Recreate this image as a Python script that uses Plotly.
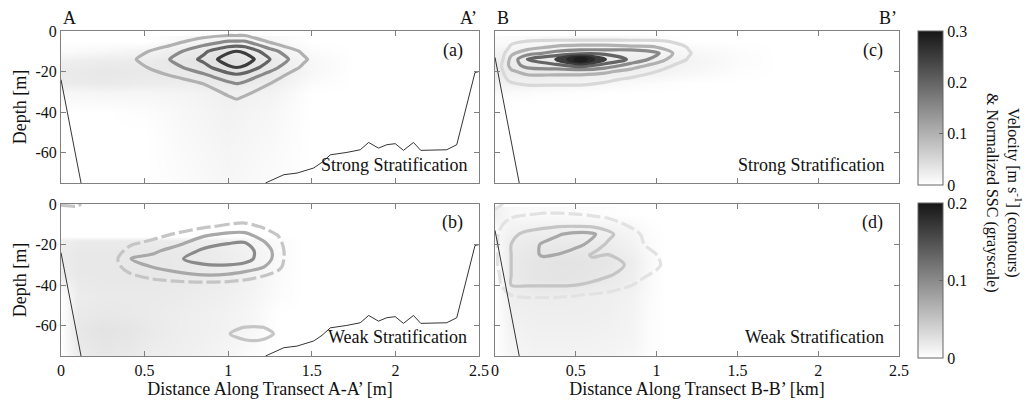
import plotly.graph_objects as go

W, H = 1029, 405
FONT = "Liberation Serif, Times New Roman, serif"

# ---------------- DATA ----------------
# Panel (a): A-A', strong stratification -- velocity [m/s] (contours)
a_vel_x = [0.2, 0.45, 0.65, 0.85, 1.0, 1.05, 1.1, 1.25, 1.45, 1.6]
a_vel_depth = [0, -5, -10, -14, -18, -22, -26, -32, -40]
a_vel = [
    [0.00, 0.02, 0.03, 0.06, 0.06, 0.06, 0.06, 0.04, 0.02, 0.00],
    [0.02, 0.05, 0.08, 0.12, 0.15, 0.15, 0.15, 0.09, 0.05, 0.02],
    [0.05, 0.085, 0.125, 0.19, 0.24, 0.25, 0.24, 0.17, 0.09, 0.04],
    [0.07, 0.10, 0.15, 0.21, 0.28, 0.30, 0.28, 0.20, 0.11, 0.05],
    [0.05, 0.085, 0.13, 0.18, 0.24, 0.25, 0.24, 0.17, 0.09, 0.03],
    [0.02, 0.06, 0.10, 0.14, 0.18, 0.19, 0.18, 0.13, 0.06, 0.02],
    [0.00, 0.03, 0.07, 0.10, 0.14, 0.15, 0.14, 0.10, 0.04, 0.00],
    [0.00, 0.01, 0.03, 0.06, 0.10, 0.11, 0.10, 0.06, 0.02, 0.00],
    [0.00, 0.00, 0.01, 0.03, 0.05, 0.06, 0.05, 0.03, 0.00, 0.00],
]
a_levels = [0.1, 0.15, 0.2, 0.25]
# Panel (a): normalized SSC (grayscale)
a_ssc_x = [0, 0.25, 0.5, 0.75, 1.0, 1.25, 1.5, 1.75]
a_ssc_depth = [-5, -10, -15, -20, -25, -30, -40, -50, -60, -75]
a_ssc = [
    [0.000, 0.000, 0.000, 0.010, 0.015, 0.010, 0.000, 0],
    [0.005, 0.010, 0.015, 0.025, 0.035, 0.020, 0.005, 0],
    [0.020, 0.025, 0.025, 0.033, 0.042, 0.028, 0.010, 0],
    [0.026, 0.030, 0.028, 0.028, 0.037, 0.028, 0.010, 0],
    [0.025, 0.028, 0.024, 0.023, 0.028, 0.023, 0.005, 0],
    [0.010, 0.012, 0.012, 0.014, 0.020, 0.016, 0.000, 0],
    [0.000, 0.000, 0.003, 0.010, 0.017, 0.011, 0.000, 0],
    [0.000, 0.000, 0.000, 0.009, 0.015, 0.009, 0.000, 0],
    [0.000, 0.000, 0.000, 0.007, 0.013, 0.007, 0.000, 0],
    [0.000, 0.000, 0.000, 0.005, 0.011, 0.005, 0.000, 0],
]

# Panel (b): A-A', weak stratification -- velocity
b_vel_x = [0.0, 0.1, 0.2, 0.34, 0.42, 0.55, 0.71, 0.85, 1.0, 1.1, 1.2, 1.3, 1.4]
b_vel_depth = [0, -3, -7, -11, -15, -19, -23, -27, -31, -35, -39, -44]
b_vel = [
    [0.055, 0.060, 0.010, 0.000, 0.000, 0.000, 0.000, 0.000, 0.000, 0.000, 0.000, 0.000, 0.000],
    [0.030, 0.030, 0.000, 0.000, 0.000, 0.000, 0.005, 0.010, 0.020, 0.020, 0.015, 0.010, 0.000],
    [0.000, 0.000, 0.000, 0.000, 0.005, 0.010, 0.020, 0.025, 0.035, 0.038, 0.030, 0.020, 0.010],
    [0.000, 0.000, 0.000, 0.010, 0.015, 0.025, 0.035, 0.045, 0.055, 0.058, 0.048, 0.035, 0.015],
    [0.000, 0.000, 0.010, 0.020, 0.030, 0.040, 0.055, 0.070, 0.080, 0.080, 0.065, 0.048, 0.020],
    [0.000, 0.000, 0.015, 0.030, 0.045, 0.056, 0.070, 0.088, 0.098, 0.100, 0.080, 0.058, 0.020],
    [0.000, 0.000, 0.020, 0.042, 0.060, 0.070, 0.086, 0.104, 0.112, 0.112, 0.090, 0.065, 0.020],
    [0.000, 0.000, 0.030, 0.050, 0.075, 0.082, 0.098, 0.110, 0.115, 0.110, 0.090, 0.065, 0.020],
    [0.000, 0.000, 0.025, 0.045, 0.065, 0.076, 0.086, 0.095, 0.095, 0.090, 0.078, 0.058, 0.020],
    [0.000, 0.000, 0.015, 0.035, 0.048, 0.060, 0.070, 0.075, 0.073, 0.065, 0.055, 0.040, 0.010],
    [0.000, 0.000, 0.010, 0.020, 0.030, 0.040, 0.045, 0.047, 0.045, 0.040, 0.030, 0.020, 0.000],
    [0.000, 0.000, 0.000, 0.000, 0.010, 0.015, 0.020, 0.020, 0.020, 0.015, 0.010, 0.000, 0.000],
]
b_levels = [0.05, 0.075, 0.1]
# Panel (b): small near-bed velocity patch
b_vel2_x = [0.9, 1.0, 1.1, 1.2, 1.3, 1.35]
b_vel2_depth = [-58, -61, -64, -67, -70]
b_vel2 = [
    [0.0, 0.020, 0.030, 0.030, 0.020, 0.0],
    [0.0, 0.040, 0.052, 0.052, 0.040, 0.0],
    [0.0, 0.048, 0.065, 0.062, 0.045, 0.0],
    [0.0, 0.030, 0.050, 0.050, 0.030, 0.0],
    [0.0, 0.010, 0.020, 0.020, 0.010, 0.0],
]
b2_levels = [0.05]
# Panel (b): normalized SSC
b_ssc_x = [0.0, 0.1, 0.25, 0.4, 0.55, 0.7, 0.85, 1.0, 1.15, 1.3, 1.45]
b_ssc_depth = [-16, -18, -25, -35, -45, -55, -62, -70, -75]
b_ssc = [
    [0.000, 0.000, 0.000, 0.000, 0.000, 0.000, 0.000, 0.000, 0.000, 0.000, 0],
    [0.013, 0.017, 0.017, 0.017, 0.017, 0.016, 0.015, 0.013, 0.009, 0.004, 0],
    [0.016, 0.020, 0.020, 0.020, 0.020, 0.019, 0.018, 0.015, 0.011, 0.005, 0],
    [0.014, 0.019, 0.020, 0.020, 0.020, 0.019, 0.017, 0.015, 0.011, 0.004, 0],
    [0.000, 0.016, 0.018, 0.018, 0.018, 0.017, 0.015, 0.013, 0.009, 0.003, 0],
    [0.000, 0.018, 0.020, 0.019, 0.017, 0.015, 0.013, 0.011, 0.007, 0.000, 0],
    [0.000, 0.020, 0.024, 0.022, 0.018, 0.015, 0.013, 0.011, 0.007, 0.000, 0],
    [0.000, 0.018, 0.022, 0.020, 0.016, 0.014, 0.012, 0.009, 0.004, 0.000, 0],
    [0.000, 0.016, 0.020, 0.018, 0.015, 0.013, 0.011, 0.008, 0.003, 0.000, 0],
]

# Panel (c): B-B', strong stratification -- velocity
c_vel_x = [0.0, 0.05, 0.1, 0.2, 0.38, 0.53, 0.68, 0.84, 1.0, 1.1, 1.2, 1.3]
c_vel_depth = [0, -4, -8, -11, -14, -17, -20, -24, -28]
c_vel = [
    [0.00, 0.00, 0.000, 0.00, 0.00, 0.00, 0.00, 0.00, 0.00, 0.00, 0.000, 0.00],
    [0.00, 0.00, 0.030, 0.04, 0.04, 0.04, 0.04, 0.04, 0.04, 0.03, 0.020, 0.01],
    [0.01, 0.02, 0.060, 0.08, 0.11, 0.12, 0.12, 0.11, 0.10, 0.08, 0.045, 0.02],
    [0.02, 0.04, 0.090, 0.13, 0.17, 0.19, 0.19, 0.20, 0.16, 0.10, 0.055, 0.02],
    [0.03, 0.05, 0.115, 0.20, 0.25, 0.30, 0.25, 0.19, 0.13, 0.08, 0.045, 0.02],
    [0.03, 0.055, 0.120, 0.17, 0.19, 0.22, 0.18, 0.13, 0.08, 0.05, 0.030, 0.01],
    [0.02, 0.05, 0.090, 0.12, 0.12, 0.12, 0.11, 0.08, 0.05, 0.03, 0.010, 0.00],
    [0.01, 0.04, 0.060, 0.07, 0.07, 0.07, 0.06, 0.04, 0.02, 0.01, 0.000, 0.00],
    [0.00, 0.02, 0.030, 0.04, 0.04, 0.04, 0.03, 0.02, 0.00, 0.00, 0.000, 0.00],
]
c_levels = [0.05, 0.1, 0.15, 0.2]
c_core_levels = [0.25, 0.275, 0.29]
# Panel (c): normalized SSC
c_ssc_x = [0, 0.25, 0.5, 0.75, 1.0, 1.25, 1.5, 1.75]
c_ssc_depth = [-5, -10, -15, -20, -25, -30, -35]
c_ssc = [
    [0.005, 0.008, 0.010, 0.010, 0.005, 0.000, 0.000, 0],
    [0.014, 0.018, 0.022, 0.018, 0.014, 0.009, 0.004, 0],
    [0.023, 0.027, 0.031, 0.027, 0.020, 0.013, 0.005, 0],
    [0.025, 0.027, 0.027, 0.022, 0.016, 0.009, 0.003, 0],
    [0.018, 0.018, 0.013, 0.009, 0.004, 0.000, 0.000, 0],
    [0.007, 0.004, 0.002, 0.000, 0.000, 0.000, 0.000, 0],
    [0.000, 0.000, 0.000, 0.000, 0.000, 0.000, 0.000, 0],
]

# Panel (d): B-B', weak stratification -- velocity
d_vel_x = [0.0, 0.1, 0.2, 0.3, 0.4, 0.5, 0.6, 0.7, 0.8, 0.9, 1.0, 1.1]
d_vel_depth = [0, -5, -10, -15, -20, -25, -30, -35, -40, -45, -50]
d_vel = [
    [0.030, 0.020, 0.015, 0.015, 0.015, 0.010, 0.005, 0.000, 0.000, 0.000, 0.000, 0],
    [0.020, 0.022, 0.024, 0.026, 0.026, 0.025, 0.022, 0.018, 0.012, 0.006, 0.000, 0],
    [0.020, 0.030, 0.038, 0.042, 0.043, 0.042, 0.040, 0.035, 0.025, 0.015, 0.005, 0],
    [0.020, 0.045, 0.056, 0.062, 0.074, 0.082, 0.080, 0.058, 0.035, 0.025, 0.010, 0],
    [0.020, 0.050, 0.062, 0.079, 0.086, 0.082, 0.068, 0.045, 0.035, 0.028, 0.015, 0],
    [0.020, 0.050, 0.066, 0.078, 0.074, 0.062, 0.048, 0.050, 0.045, 0.030, 0.025, 0],
    [0.020, 0.050, 0.060, 0.062, 0.060, 0.058, 0.056, 0.055, 0.050, 0.035, 0.030, 0.01],
    [0.015, 0.050, 0.055, 0.056, 0.056, 0.055, 0.054, 0.052, 0.045, 0.030, 0.020, 0],
    [0.010, 0.050, 0.052, 0.052, 0.052, 0.050, 0.048, 0.040, 0.030, 0.020, 0.008, 0],
    [0.000, 0.025, 0.028, 0.028, 0.028, 0.026, 0.022, 0.018, 0.012, 0.006, 0.000, 0],
    [0.000, 0.015, 0.015, 0.014, 0.012, 0.010, 0.008, 0.005, 0.000, 0.000, 0.000, 0],
]
d_levels = [0.05, 0.075]
d_outer_levels = [0.025]
# Panel (d): normalized SSC
d_ssc_x = [0.0, 0.1, 0.25, 0.4, 0.55, 0.7, 0.85, 0.95, 1.05]
d_ssc_depth = [-5, -12, -20, -28, -36, -45, -55, -65, -75]
d_ssc = [
    [0.012, 0.006, 0.004, 0.004, 0.003, 0.002, 0.000, 0.000, 0],
    [0.004, 0.011, 0.013, 0.013, 0.012, 0.011, 0.007, 0.002, 0],
    [0.004, 0.016, 0.019, 0.019, 0.018, 0.016, 0.011, 0.004, 0],
    [0.000, 0.018, 0.022, 0.024, 0.023, 0.021, 0.015, 0.006, 0],
    [0.000, 0.018, 0.022, 0.023, 0.022, 0.019, 0.014, 0.005, 0],
    [0.000, 0.014, 0.016, 0.016, 0.015, 0.014, 0.011, 0.004, 0],
    [0.000, 0.012, 0.014, 0.014, 0.014, 0.013, 0.010, 0.003, 0],
    [0.000, 0.010, 0.012, 0.012, 0.012, 0.011, 0.009, 0.003, 0],
    [0.000, 0.008, 0.010, 0.010, 0.010, 0.009, 0.007, 0.002, 0],
]

# Bathymetry
bathA_x = [0.0, 0.12, None, 1.223, 1.333, 1.412, 1.511, 1.561, 1.611, 1.710, 1.790,
           1.840, 1.899, 1.949, 1.999, 2.048, 2.108, 2.152, 2.307, 2.367, 2.436, 2.476, 2.5]
bathA_depth = [-24, -75, None, -75, -70.9, -70.1, -67.6, -64.8, -61.1, -59.9, -58.6,
               -55.0, -57.8, -56.1, -55.6, -58.9, -55.0, -58.9, -58.6, -56.1, -34.0, -20.5, -20.0]
bathB_x = [0.0, 0.15]
bathB_depth = [-13, -75]

# Axis ticks
x_ticks = [0, 0.5, 1, 1.5, 2, 2.5]
x_ticktext = ["0", "0.5", "1", "1.5", "2", "2.5"]
y_ticks = [0, -20, -40, -60]
y_ticktext = ["0", "-20", "-40", "-60"]
cbar_top_ticks = [0, 0.1, 0.2, 0.3]
cbar_top_text = ["0", "0.1", "0.2", "0.3"]
cbar_bot_ticks = [0, 0.1, 0.2]
cbar_bot_text = ["0", "0.1", "0.2"]
TOP_MAX = 0.3
BOT_MAX = 0.2

# ---------------- FIGURE ----------------
fig = go.Figure()
DARK = 22
GRAY = [[0, "#ffffff"], [1, "rgb(%d,%d,%d)" % (DARK, DARK, DARK)]]

XL = [61 / W, 479 / W]
XR = [495 / W, 899 / W]
YT = [1 - 183 / H, 1 - 31 / H]
YB = [1 - 356 / H, 1 - 204 / H]
tickfont = dict(family=FONT, size=16, color="#111")


def gray(v, vmax):
    c = int(round(255 - (255 - DARK) * min(v / vmax, 1.0)))
    return "rgb(%d,%d,%d)" % (c, c, c)


def cbar(ticks, text, ytop, length):
    return dict(x=918 / W, xanchor="left", xpad=0, y=ytop, yanchor="top", ypad=0,
                len=length, lenmode="fraction", thickness=25, thicknessmode="pixels",
                outlinewidth=1, outlinecolor="#666", tickvals=ticks, ticktext=text,
                ticks="inside", ticklen=4, tickcolor="#666", tickfont=tickfont)


def add_heat(x, y, z, ax, vmax, bar=None):
    fig.add_trace(go.Heatmap(x=x, y=y, z=z, zsmooth="best", colorscale=GRAY,
                             zmin=0, zmax=vmax, showscale=bar is not None,
                             colorbar=bar if bar is not None else {},
                             xaxis="x" + ax, yaxis="y" + ax, hoverinfo="skip"))


def add_cont(x, y, z, ax, vmax, levels, width=3.2, smooth=0.9, dash="solid"):
    for lv in levels:
        fig.add_trace(go.Contour(x=x, y=y, z=z, autocontour=False, showscale=False,
                                 contours=dict(coloring="none", start=lv, end=lv, size=1),
                                 line=dict(width=width, smoothing=smooth, color=gray(lv, vmax),
                                           dash=dash),
                                 xaxis="x" + ax, yaxis="y" + ax, hoverinfo="skip"))


def add_bath(x, y, ax):
    fig.add_trace(go.Scatter(x=x, y=y, mode="lines", line=dict(color="black", width=0.8),
                             xaxis="x" + ax, yaxis="y" + ax, hoverinfo="skip",
                             showlegend=False, connectgaps=False))


DASH = "14px,4px"
# axis ids: "" -> (a), "2" -> (b), "3" -> (c), "4" -> (d)
add_heat(a_ssc_x, a_ssc_depth, a_ssc, "", TOP_MAX,
         bar=cbar(cbar_top_ticks, cbar_top_text, 1 - 31 / H, 154 / H))
add_cont(a_vel_x, a_vel_depth, a_vel, "", TOP_MAX, a_levels, smooth=0.5)
add_bath(bathA_x, bathA_depth, "")

add_heat(b_ssc_x, b_ssc_depth, b_ssc, "2", BOT_MAX,
         bar=cbar(cbar_bot_ticks, cbar_bot_text, 1 - 203 / H, 155 / H))
add_cont(b_vel_x, b_vel_depth, b_vel, "2", BOT_MAX, b_levels[:1], dash=DASH)
add_cont(b_vel_x, b_vel_depth, b_vel, "2", BOT_MAX, b_levels[1:])
add_cont(b_vel2_x, b_vel2_depth, b_vel2, "2", BOT_MAX, b2_levels)
add_bath(bathA_x, bathA_depth, "2")

add_heat(c_ssc_x, c_ssc_depth, c_ssc, "3", TOP_MAX)
add_cont(c_vel_x, c_vel_depth, c_vel, "3", TOP_MAX, c_levels)
add_cont(c_vel_x, c_vel_depth, c_vel, "3", TOP_MAX, c_core_levels, width=4.5)
add_bath(bathB_x, bathB_depth, "3")

add_heat(d_ssc_x, d_ssc_depth, d_ssc, "4", BOT_MAX)
add_cont(d_vel_x, d_vel_depth, d_vel, "4", BOT_MAX, d_outer_levels, dash=DASH)
add_cont(d_vel_x, d_vel_depth, d_vel, "4", BOT_MAX, d_levels)
add_bath(bathB_x, bathB_depth, "4")

AX = dict(range=[0, 2.5], tickvals=x_ticks, ticktext=x_ticktext, ticks="inside", ticklen=5,
          tickcolor="#808080", showline=True, linecolor="#808080", linewidth=1, mirror="ticks",
          showgrid=False, zeroline=False, tickfont=tickfont)
AY = dict(range=[-75, 0], tickvals=y_ticks, ticktext=y_ticktext, ticks="inside", ticklen=5,
          tickcolor="#808080", showline=True, linecolor="#808080", linewidth=1, mirror="ticks",
          showgrid=False, zeroline=False, tickfont=tickfont)

title_font = dict(family=FONT, size=18, color="#111")

fig.update_layout(
    width=W, height=H, margin=dict(l=0, r=0, t=0, b=0, autoexpand=False),
    paper_bgcolor="white", plot_bgcolor="white", showlegend=False,
    xaxis=dict(AX, domain=XL, anchor="y", showticklabels=False),
    yaxis=dict(AY, domain=YT, anchor="x",
               title=dict(text="Depth [m]", font=title_font, standoff=4)),
    xaxis2=dict(AX, domain=XL, anchor="y2",
                title=dict(text="Distance Along Transect A-A\u2019 [m]", font=title_font, standoff=4)),
    yaxis2=dict(AY, domain=YB, anchor="x2",
                title=dict(text="Depth [m]", font=title_font, standoff=4)),
    xaxis3=dict(AX, domain=XR, anchor="y3", showticklabels=False),
    yaxis3=dict(AY, domain=YT, anchor="x3", showticklabels=False),
    xaxis4=dict(AX, domain=XR, anchor="y4",
                title=dict(text="Distance Along Transect B-B\u2019 [km]", font=title_font, standoff=4)),
    yaxis4=dict(AY, domain=YB, anchor="x4", showticklabels=False),
)

txt = dict(family=FONT, size=18, color="#111")
ann = []
# transect end labels
ann.append(dict(text="A", x=61 / W, y=1 - 18 / H, xanchor="left"))
ann.append(dict(text="A\u2019", x=479 / W, y=1 - 18 / H, xanchor="right"))
ann.append(dict(text="B", x=495 / W, y=1 - 18 / H, xanchor="left"))
ann.append(dict(text="B\u2019", x=899 / W, y=1 - 18 / H, xanchor="right"))
# panel letters
ann.append(dict(text="(a)", x=465 / W, y=1 - 50 / H, xanchor="right"))
ann.append(dict(text="(c)", x=885 / W, y=1 - 50 / H, xanchor="right"))
ann.append(dict(text="(b)", x=465 / W, y=1 - 222 / H, xanchor="right"))
ann.append(dict(text="(d)", x=885 / W, y=1 - 222 / H, xanchor="right"))
# stratification labels
ann.append(dict(text="Strong Stratification", x=469 / W, y=1 - 165 / H, xanchor="right"))
ann.append(dict(text="Strong Stratification", x=886 / W, y=1 - 165 / H, xanchor="right"))
ann.append(dict(text="Weak Stratification", x=469 / W, y=1 - 337 / H, xanchor="right"))
ann.append(dict(text="Weak Stratification", x=886 / W, y=1 - 337 / H, xanchor="right"))
for a in ann:
    a.update(xref="paper", yref="paper", yanchor="middle", showarrow=False, font=txt)
# colorbar label
ann.append(dict(text="Velocity [m s<sup>-1</sup>] (contours)<br>&amp; Normalized SSC (grayscale)",
                x=1004 / W, y=1 - 193 / H, xref="paper", yref="paper", xanchor="center",
                yanchor="middle", textangle=90, showarrow=False,
                font=dict(family=FONT, size=16, color="#111")))
fig.update_layout(annotations=ann)

fig.write_html("out.html")
